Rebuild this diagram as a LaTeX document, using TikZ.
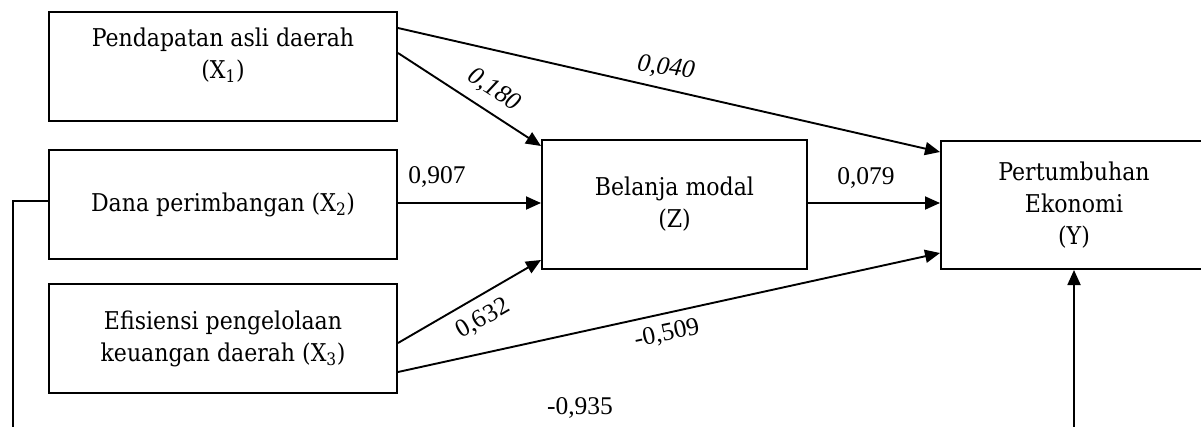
\documentclass[tikz,border=0pt]{standalone}
\usepackage{fontspec}
\setmainfont{Liberation Serif}
\newfontfamily\boxfont{DejaVu Serif Condensed}
\usetikzlibrary{arrows.meta}
\begin{document}
\begin{tikzpicture}[x=1pt,y=-1pt,
  box/.style={draw, line width=2pt, inner sep=0pt, align=center,
    font=\boxfont\fontsize{24.5}{32}\selectfont},
  boxtext/.style={inner sep=0pt, align=center, font=\boxfont\fontsize{24.5}{32}\selectfont},
  conn/.style={line width=1.9pt, -{Triangle[length=15pt,width=13pt]}},
  plain/.style={line width=1.9pt},
  coef/.style={inner sep=0pt, font=\fontsize{25.5}{30}\selectfont},
  coefit/.style={inner sep=0pt, font=\itshape\fontsize{25.5}{30}\selectfont}]
\clip (0,0) rectangle (1201,426);
\fill[white] (0,0) rectangle (1201,426);

% variables
\node[box, minimum width=348pt, minimum height=109pt] (x1) at (223,66.5) {};
\node[boxtext, anchor=north] (x1t) at ([yshift=-17pt]x1.north) {Pendapatan asli daerah\\(X\textsubscript{1})};
\node[box, minimum width=348pt, minimum height=109pt] (x2) at (223,204.5) {Dana perimbangan (X\textsubscript{2})};
\node[box, minimum width=348pt, minimum height=109pt] (x3) at (223,338.5) {Efisiensi pengelolaan\\keuangan daerah (X\textsubscript{3})};
\node[box, minimum width=265pt, minimum height=129pt] (z) at (674.5,204.5) {Belanja modal\\(Z)};
\node[box, minimum width=266pt, minimum height=128pt] (y) at (1074,205) {Pertumbuhan\\Ekonomi\\(Y)};

% paths
\draw[conn] ([yshift=13.5pt]x1.east) -- ([yshift=58.5pt]z.west);
\draw[conn] ([yshift=38.5pt]x1.east) -- ([yshift=53pt]y.west);
\draw[conn] ([yshift=1.5pt]x2.east) -- ([yshift=1.5pt]z.west);
\draw[conn] ([yshift=1.5pt]z.east) -- ([yshift=2pt]y.west);
\draw[conn] ([yshift=-4.5pt]x3.east) -- ([yshift=-55.5pt]z.west);
\draw[conn] ([yshift=-33.5pt]x3.east) -- ([yshift=-48pt]y.west);

% path from X2 running below the picture to Y
\coordinate (fbL) at (13,201);
\coordinate (fbLb) at (13,440);
\coordinate (fbR) at (1074,440);
\draw[plain] ([yshift=3.5pt]x2.west) -- (fbL) -- (fbLb);
\draw[conn] (fbR) -- (y.south);

% coefficients
\node[coefit, rotate=-33] (c1) at (494,90) {0,180};
\node[coefit, rotate=-8] (c2) at (666,68) {0,040};
\node[coef] (c3) at (437,177) {0,907};
\node[coef] (c4) at (866,178) {0,079};
\node[coef, rotate=30] (c5) at (483,319) {0,632};
\node[coef, rotate=12] (c6) at (667,334) {-0,509};
\node[coef] (c7) at (580,408) {-0,935};
\end{tikzpicture}
\end{document}
